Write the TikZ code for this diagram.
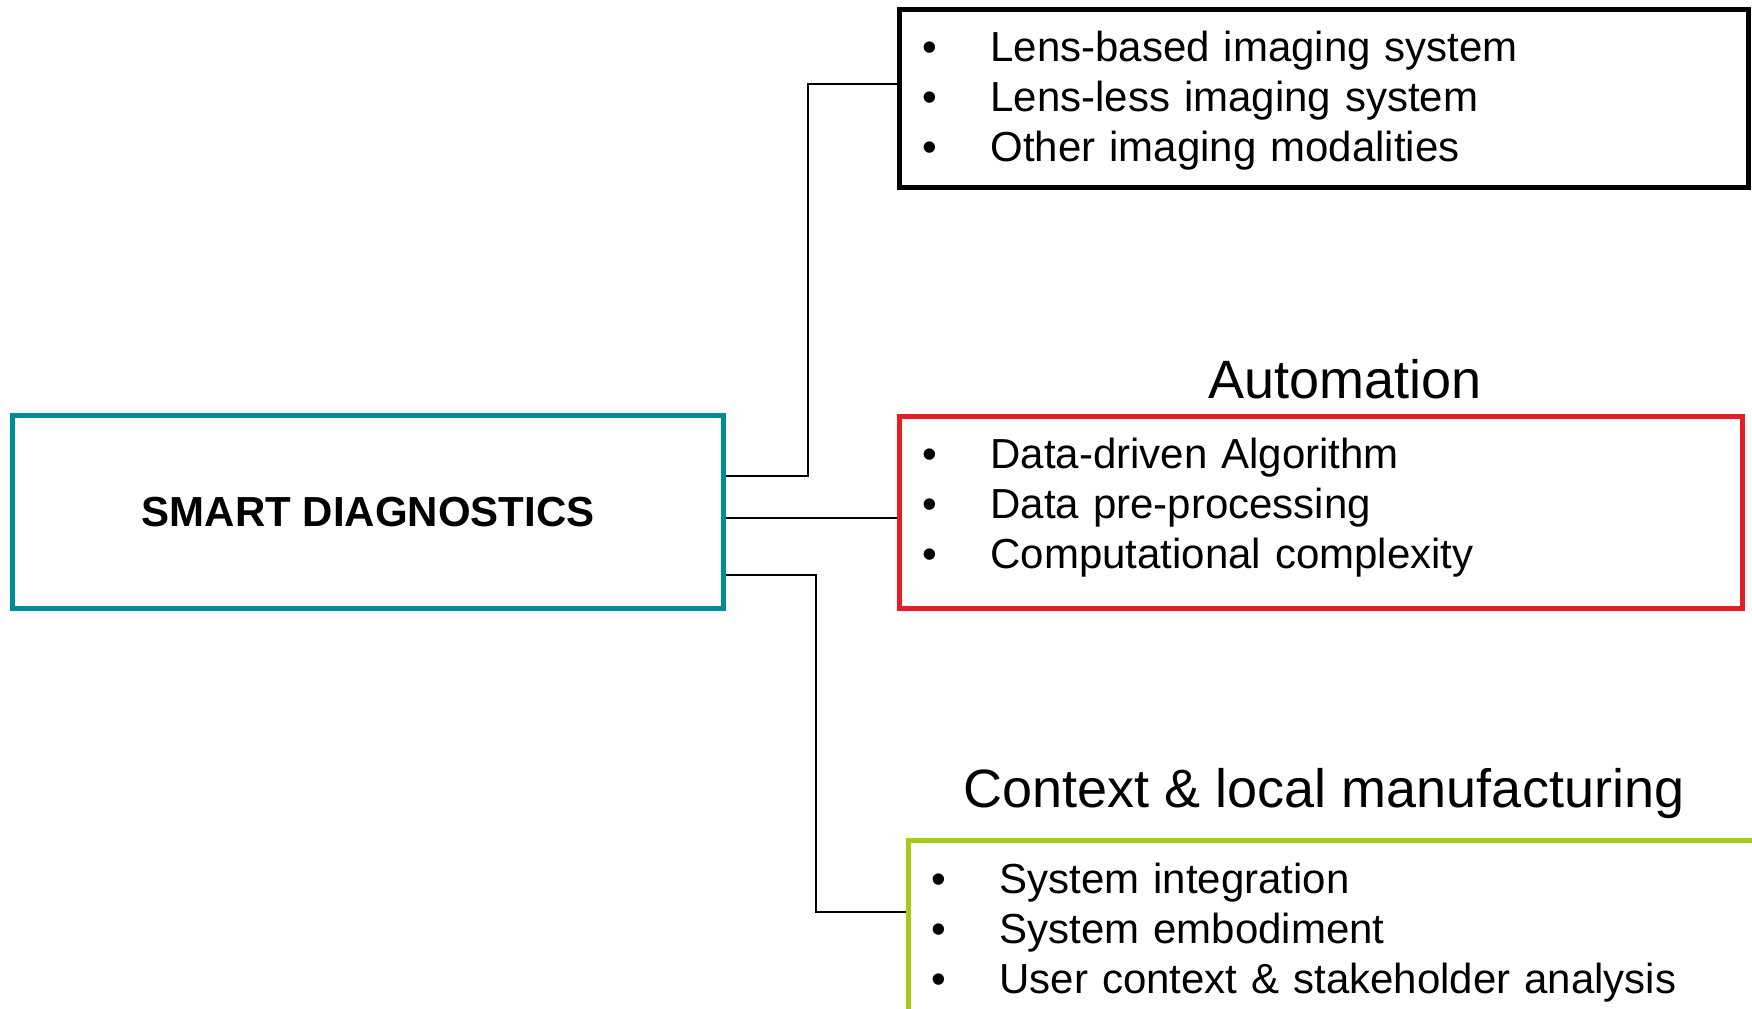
\documentclass[tikz,border=0pt]{standalone}
\usepackage{fontspec}
\setmainfont{Liberation Sans}
\usetikzlibrary{positioning}
\definecolor{diagteal}{RGB}{0,140,149}
\definecolor{autored}{RGB}{227,30,36}
\definecolor{ctxgreen}{RGB}{166,202,24}
\newcommand{\bul}{\makebox[34pt][l]{\textbullet}}
\newcommand{\lowr}[1]{\rule[-#1]{0pt}{0pt}}

\begin{document}
\begin{tikzpicture}[x=0.5pt,y=-0.5pt,
  every node/.style={font=\fontsize{21}{25}\selectfont},
  listbox/.style={draw,line width=2.4pt,anchor=north west,align=left,
    inner xsep=11.5pt,inner ysep=0pt,text width=401.5pt},
  boxtitle/.style={anchor=base,font=\fontsize{27}{32}\selectfont},
  wire/.style={line width=1pt}]
  \clip (0,0) rectangle (1752,1008);
  \useasboundingbox (0,0) rectangle (1752,1008);
  % central box
  \node[draw=diagteal,line width=2.6pt,anchor=north west,minimum width=355.5pt,
    minimum height=96.5pt,font=\fontsize{21}{25}\selectfont\bfseries] (diag) at (10,413) {SMART DIAGNOSTICS};
  % imaging
  \node[listbox,minimum height=89pt] (lens) at (897,7)
    {\rule{0pt}{17pt}\bul Lens-based imaging system\\ \bul Lens-less imaging system\\ \bul Other imaging modalities};
  % automation
  \node[listbox,draw=autored,text width=398.5pt,minimum height=96pt] (auto) at (897,414)
    {\bul Data-driven Algorithm\\ \bul Data pre-processing\\ \bul Computational complexity\lowr{9pt}};
  \node[boxtitle] (autotitle) at (1345,398) {Automation};
  % context
  \node[listbox,draw=ctxgreen,minimum height=96pt] (ctx) at (906,838)
    {\bul System integration\\ \bul System embodiment\\ \bul User context \& stakeholder analysis\lowr{8pt}};
  \node[boxtitle] (ctxtitle) at (1324,807) {Context \& local manufacturing};
  % connectors
  \draw[wire] (diag.east |- 0,476) -| (808,84) -- (lens.west |- 0,84);
  \draw[wire] (diag.east |- 0,518) -- (auto.west |- 0,518);
  \draw[wire] (diag.east |- 0,575) -| (816,912) -- (ctx.west |- 0,912);
\end{tikzpicture}
\end{document}
